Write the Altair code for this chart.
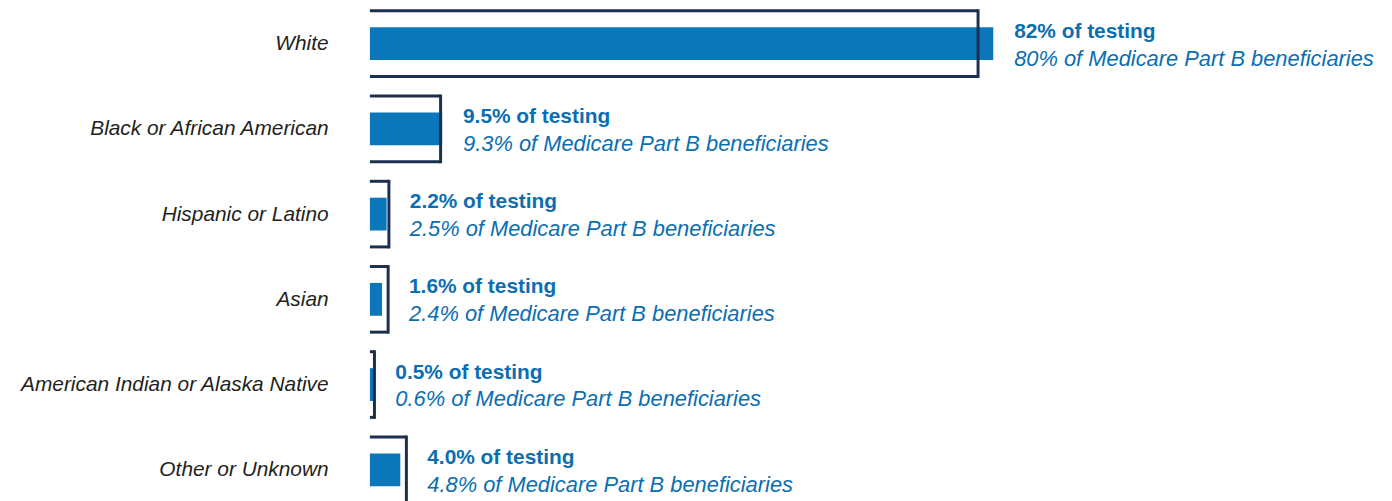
import altair as alt
import pandas as pd

categories = [
    "White",
    "Black or African American",
    "Hispanic or Latino",
    "Asian",
    "American Indian or Alaska Native",
    "Other or Unknown",
]
testing_pct = [82, 9.5, 2.2, 1.6, 0.5, 4.0]
medicare_pct = [80, 9.3, 2.5, 2.4, 0.6, 4.8]

df = pd.DataFrame({
    "i": list(range(len(categories))),
    "cat": categories,
    "t": testing_pct,
    "m": medicare_pct,
})

FONT = "Liberation Sans"
BAR = "#0b76b9"
NAVY = "#1b2f50"
TXT = "#0b6eb1"

cat_js = "[" + ",".join("'" + c + "'" for c in categories) + "]"

x_scale = alt.Scale(domain=[0, 133.4], nice=False, zero=False)
y_scale = alt.Scale(domain=[-0.343, 5.291], nice=False, zero=False, reverse=True)

y_axis = alt.Axis(
    values=list(range(len(categories))),
    labelExpr=cat_js + "[datum.value]",
    domain=False, ticks=False, grid=False,
    labelFontSize=21, labelFontStyle="italic", labelFont=FONT,
    labelColor="#231f20", labelPadding=42, labelLimit=0, title="",
)


def Y():
    return alt.Y("i:Q", scale=y_scale, axis=y_axis)


def X(f):
    return alt.X(f, scale=x_scale, axis=None)


base = alt.Chart(df)

bars = base.mark_bar(orient="horizontal", size=33, color=BAR).encode(
    x=X("t:Q"),
    y=Y(),
)

top = base.mark_rule(color=NAVY, strokeWidth=3, yOffset=-33).encode(
    x=X("zero:Q"),
    x2="m:Q",
    y=Y(),
).transform_calculate(zero="0")

bottom = base.mark_rule(color=NAVY, strokeWidth=3, yOffset=33).encode(
    x=X("zero:Q"),
    x2="m:Q",
    y=Y(),
).transform_calculate(zero="0")

side = base.mark_rule(color=NAVY, strokeWidth=3, yOffset=-34.5, y2Offset=34.5).encode(
    x=X("m:Q"),
    y=Y(),
    y2="i:Q",
)

fmt = "(datum.{f} >= 10 ? format(datum.{f}, '.0f') : format(datum.{f}, '.1f'))"

txt_base = base.transform_calculate(
    mx="max(datum.t, datum.m)",
    l1=fmt.format(f="t") + " + '% of testing'",
    l2=fmt.format(f="m") + " + '% of Medicare Part B beneficiaries'",
)

line1 = txt_base.mark_text(
    align="left", baseline="middle", dx=21, dy=-12,
    font=FONT, fontSize=21, fontWeight="bold", color=TXT,
).encode(
    x=X("mx:Q"),
    y=Y(),
    text="l1:N",
)

line2 = txt_base.mark_text(
    align="left", baseline="middle", dx=21, dy=15,
    font=FONT, fontSize=22, fontStyle="italic", color=TXT,
).encode(
    x=X("mx:Q"),
    y=Y(),
    text="l2:N",
)

chart = alt.layer(bars, top, bottom, side, line1, line2).properties(
    width=1020, height=493,
    autosize=alt.AutoSizeParams(type="none"),
    padding={"left": 364, "top": 0, "right": 0, "bottom": 0},
    background="white",
).configure_view(stroke=None)

chart.save("out.html", embed_options={"renderer": "svg", "actions": False})
